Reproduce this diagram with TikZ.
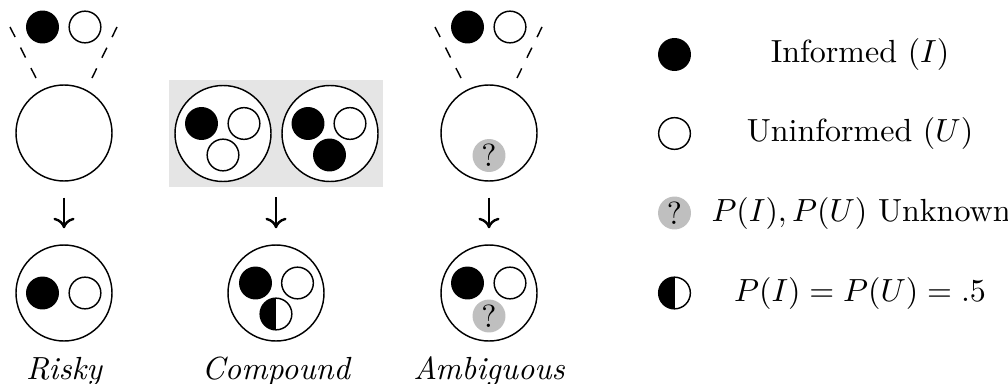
\documentclass[tikz,border=0pt]{standalone}
\usetikzlibrary{arrows.meta}
\begin{document}
\begin{tikzpicture}[x=0.3125pt, y=-0.3125pt, line width=0.45pt,
  big/.style={circle, draw, fill=white, minimum size=30pt, inner sep=0pt},
  ball/.style={circle, minimum size=10.3pt, inner sep=0pt},
  inf/.style={ball, fill=black},
  uninf/.style={ball, draw, fill=white, minimum size=9.9pt},
  unk/.style={ball, fill=black!25},
  half/.style={ball, draw, fill=white, minimum size=9.9pt,
    path picture={\fill[black] (path picture bounding box.south west) rectangle (path picture bounding box.north);}},
  funnel/.style={dash pattern=on 3.5pt off 3.7pt},
  steparrow/.style={line width=0.75pt, -{Computer Modern Rightarrow[length=3.3pt,width=6.6pt]},
    shorten <=5pt, shorten >=5pt},
  caption/.style={anchor=base, font=\itshape},
  legend/.style={anchor=base}]

\useasboundingbox (0,0) rectangle (1008,383);

% ---- Risky ----
\node[inf]   (r-ti) at (42.5,27) {};
\node[uninf] (r-tu) at (85,27) {};
\node[big]   (r-top) at (64,133) {};
\coordinate (r-l1) at (10,27);  \coordinate (r-l2) at (36,78);
\coordinate (r-r1) at (117,27); \coordinate (r-r2) at (92,78);
\draw[funnel] (r-l1) -- (r-l2);
\draw[funnel] (r-r1) -- (r-r2);
\node[big]   (r-bot) at (64,293) {};
\node[inf]   (r-bi) at (42.5,293) {};
\node[uninf] (r-bu) at (85,293) {};
\draw[steparrow] (r-top) -- (r-bot);
\node[caption] (r-cap) at (64,379) {Risky};

% ---- Compound ----
\node[fill=black!10, minimum width=66.9pt, minimum height=33.4pt, inner sep=0pt] (c-box) at (276,133.5) {};
\node[big]   (c-a)  at (223,133.5) {};
\node[inf]   (c-a1) at (201.5,123.5) {};
\node[uninf] (c-a2) at (244,123.5) {};
\node[uninf] (c-a3) at (223,155) {};
\node[big]   (c-b)  at (330,133.5) {};
\node[inf]   (c-b1) at (308,123.5) {};
\node[uninf] (c-b2) at (350,123.5) {};
\node[inf]   (c-b3) at (329.5,155) {};
\node[big]   (c-bot) at (276,293) {};
\node[inf]   (c-bi) at (255.5,283) {};
\node[uninf] (c-bu) at (297.5,283) {};
\node[half]  (c-bh) at (276,314) {};
\draw[steparrow, shorten <=3pt] (c-box) -- (c-bot);
\node[caption] (c-cap) at (276,379) {Compound};

% ---- Ambiguous ----
\node[inf]   (a-ti) at (467.5,27) {};
\node[uninf] (a-tu) at (510,27) {};
\node[big]   (a-top) at (489,133) {};
\node[unk]   (a-tq) at (489,155.5) {?};
\coordinate (a-l1) at (435,27);  \coordinate (a-l2) at (461,78);
\coordinate (a-r1) at (542,27);  \coordinate (a-r2) at (517,78);
\draw[funnel] (a-l1) -- (a-l2);
\draw[funnel] (a-r1) -- (a-r2);
\node[big]   (a-bot) at (489,293) {};
\node[inf]   (a-bi) at (467.5,283) {};
\node[uninf] (a-bu) at (510,283) {};
\node[unk]   (a-bq) at (489,316) {?};
\draw[steparrow] (a-top) -- (a-bot);
\node[caption] (a-cap) at (489,379) {Ambiguous};

% ---- Legend ----
\node[inf]   (k1) at (674.5,54.5) {};
\node[uninf] (k2) at (674.5,133.5) {};
\node[unk]   (k3) at (674.5,213) {?};
\node[half]  (k4) at (674.5,293) {};
\node[legend] (t1) at (860,62.5) {Informed $(I)$};
\node[legend] (t2) at (860,141.5) {Uninformed $(U)$};
\node[legend] (t3) at (861,221) {$P(I), P(U)$ Unknown};
\node[legend] (t4) at (860,301) {$P(I) = P(U) = .5$};
\end{tikzpicture}
\end{document}
